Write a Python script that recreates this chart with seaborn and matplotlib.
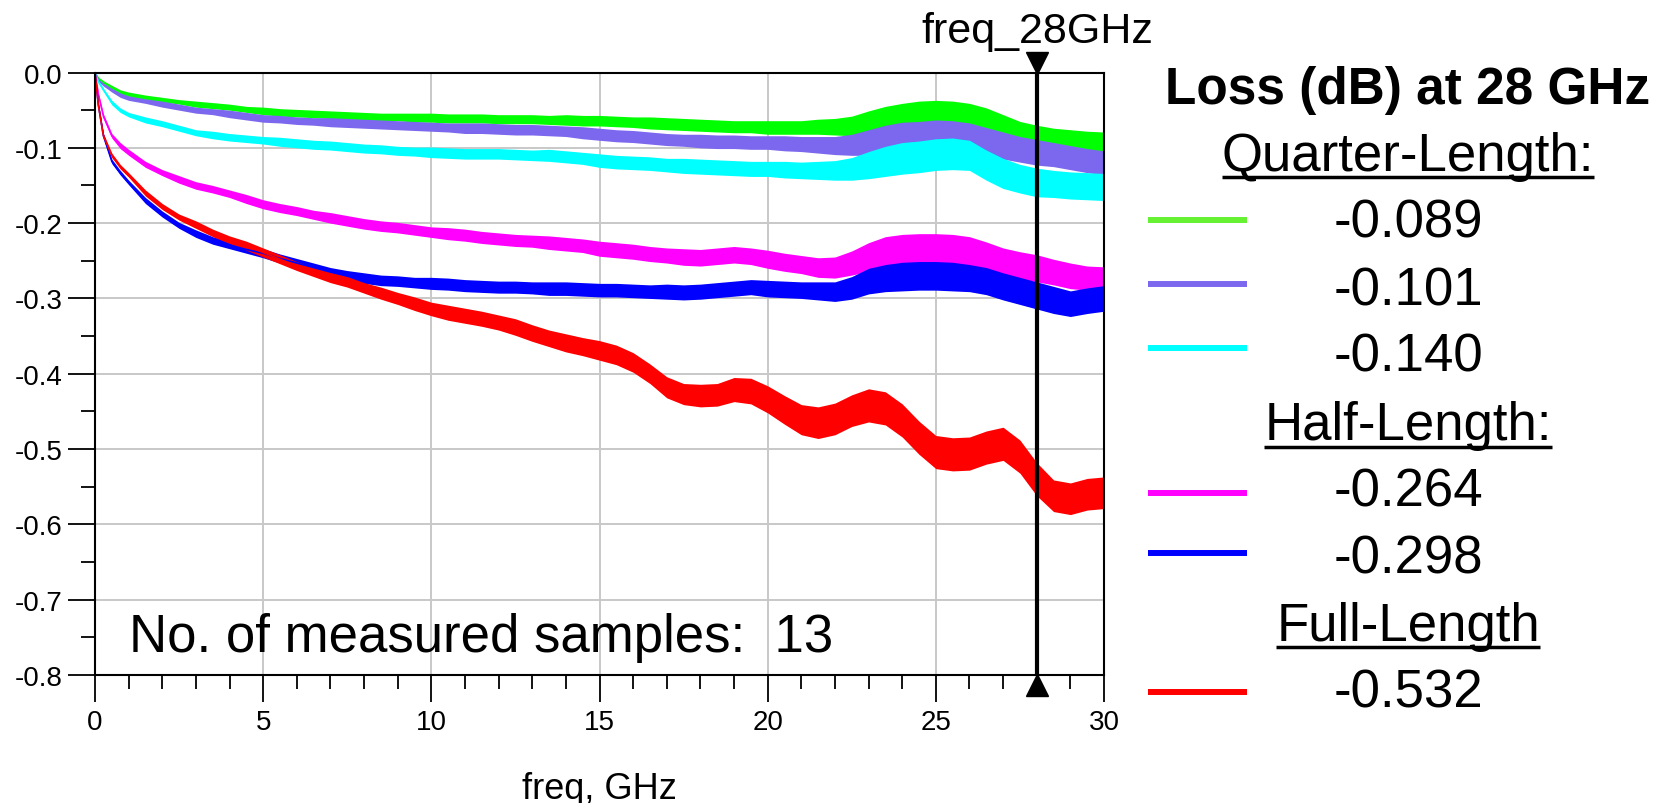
import numpy as np
import pandas as pd
import matplotlib
matplotlib.use("Agg")
import matplotlib.pyplot as plt
import seaborn as sns
from matplotlib.lines import Line2D
from matplotlib.ticker import MultipleLocator, FuncFormatter
import matplotlib.transforms as mtransforms

# ---------------- data ----------------
freq = [0, 0.1, 0.25, 0.5, 0.75, 1, 1.5, 2, 2.5, 3,
        3.5, 4, 4.5, 5, 5.5, 6, 6.5, 7, 7.5, 8,
        8.5, 9, 9.5, 10, 10.5, 11, 11.5, 12, 12.5, 13,
        13.5, 14, 14.5, 15, 15.5, 16, 16.5, 17, 17.5, 18,
        18.5, 19, 19.5, 20, 20.5, 21, 21.5, 22, 22.5, 23,
        23.5, 24, 24.5, 25, 25.5, 26, 26.5, 27, 27.5, 28,
        28.5, 29, 29.5, 30]

series_names = ["Q1", "Q2", "Q3", "H1", "H2", "F1"]
series_colors = ["#00ff00", "#7b68ee", "#00ffff", "#ff00ff", "#0000ff", "#ff0000"]
legend_colors = ["#66f233", "#7b68ee", "#00ffff", "#ff00ff", "#0000ff", "#ff0000"]

q1_loss = [0, -0.008, -0.013, -0.020, -0.026, -0.029, -0.033, -0.036, -0.039, -0.042,
           -0.044, -0.046, -0.049, -0.051, -0.053, -0.054, -0.055, -0.056, -0.057, -0.058,
           -0.059, -0.059, -0.060, -0.060, -0.061, -0.061, -0.061, -0.062, -0.062, -0.062,
           -0.063, -0.063, -0.064, -0.064, -0.065, -0.066, -0.067, -0.068, -0.069, -0.070,
           -0.071, -0.072, -0.072, -0.073, -0.073, -0.073, -0.072, -0.072, -0.071, -0.067,
           -0.063, -0.060, -0.058, -0.057, -0.058, -0.060, -0.065, -0.073, -0.081, -0.086,
           -0.089, -0.091, -0.093, -0.094]
q2_loss = [0, -0.010, -0.016, -0.023, -0.030, -0.034, -0.038, -0.042, -0.046, -0.050,
           -0.052, -0.055, -0.058, -0.061, -0.062, -0.064, -0.065, -0.066, -0.067, -0.068,
           -0.069, -0.070, -0.071, -0.072, -0.073, -0.074, -0.074, -0.075, -0.076, -0.076,
           -0.077, -0.078, -0.080, -0.082, -0.084, -0.085, -0.087, -0.089, -0.090, -0.091,
           -0.092, -0.092, -0.093, -0.093, -0.094, -0.095, -0.096, -0.097, -0.096, -0.093,
           -0.089, -0.086, -0.085, -0.084, -0.084, -0.086, -0.091, -0.097, -0.102, -0.106,
           -0.109, -0.113, -0.117, -0.120]
q3_loss = [0, -0.012, -0.023, -0.040, -0.050, -0.056, -0.063, -0.068, -0.074, -0.080,
           -0.083, -0.086, -0.088, -0.090, -0.092, -0.094, -0.096, -0.097, -0.099, -0.101,
           -0.102, -0.104, -0.105, -0.106, -0.107, -0.108, -0.108, -0.108, -0.109, -0.110,
           -0.110, -0.112, -0.114, -0.117, -0.119, -0.120, -0.121, -0.123, -0.124, -0.125,
           -0.126, -0.127, -0.128, -0.128, -0.129, -0.130, -0.130, -0.130, -0.128, -0.123,
           -0.118, -0.114, -0.112, -0.109, -0.108, -0.110, -0.123, -0.134, -0.141, -0.146,
           -0.148, -0.150, -0.151, -0.152]
h1_loss = [0, -0.029, -0.058, -0.084, -0.097, -0.106, -0.122, -0.133, -0.142, -0.150,
           -0.155, -0.161, -0.168, -0.175, -0.180, -0.184, -0.189, -0.193, -0.197, -0.201,
           -0.204, -0.206, -0.209, -0.212, -0.214, -0.216, -0.219, -0.221, -0.223, -0.224,
           -0.226, -0.228, -0.230, -0.234, -0.236, -0.238, -0.241, -0.243, -0.245, -0.246,
           -0.244, -0.242, -0.244, -0.248, -0.252, -0.255, -0.259, -0.259, -0.253, -0.245,
           -0.239, -0.237, -0.236, -0.236, -0.237, -0.239, -0.245, -0.252, -0.256, -0.260,
           -0.265, -0.270, -0.273, -0.274]
h2_loss = [0, -0.043, -0.084, -0.118, -0.133, -0.146, -0.170, -0.188, -0.203, -0.214,
           -0.223, -0.229, -0.235, -0.240, -0.247, -0.253, -0.259, -0.265, -0.270, -0.273,
           -0.276, -0.277, -0.279, -0.280, -0.281, -0.283, -0.284, -0.285, -0.285, -0.286,
           -0.287, -0.287, -0.288, -0.289, -0.289, -0.290, -0.291, -0.291, -0.292, -0.291,
           -0.289, -0.287, -0.285, -0.287, -0.288, -0.289, -0.290, -0.291, -0.286, -0.277,
           -0.273, -0.271, -0.270, -0.270, -0.271, -0.273, -0.277, -0.284, -0.290, -0.296,
           -0.302, -0.307, -0.303, -0.300]
f1_loss = [0, -0.043, -0.084, -0.110, -0.125, -0.136, -0.160, -0.178, -0.192, -0.202,
           -0.213, -0.222, -0.230, -0.239, -0.248, -0.257, -0.265, -0.272, -0.278, -0.286,
           -0.293, -0.300, -0.307, -0.314, -0.319, -0.323, -0.327, -0.332, -0.338, -0.346,
           -0.353, -0.359, -0.364, -0.369, -0.375, -0.385, -0.400, -0.418, -0.427, -0.429,
           -0.428, -0.421, -0.423, -0.434, -0.448, -0.461, -0.465, -0.460, -0.449, -0.442,
           -0.446, -0.462, -0.485, -0.504, -0.507, -0.506, -0.498, -0.493, -0.510, -0.540,
           -0.562, -0.566, -0.560, -0.558]

q1_ripple = [0, 0.002, 0.002, 0.003, 0.003, 0.003, 0.003, 0.003, 0.003, 0.004,
             0.004, 0.004, 0.004, 0.005, 0.005, 0.005, 0.005, 0.005, 0.005, 0.005,
             0.005, 0.005, 0.006, 0.006, 0.006, 0.006, 0.006, 0.006, 0.006, 0.006,
             0.006, 0.007, 0.007, 0.007, 0.007, 0.007, 0.008, 0.008, 0.008, 0.008,
             0.008, 0.008, 0.008, 0.009, 0.009, 0.009, 0.010, 0.011, 0.013, 0.016,
             0.018, 0.019, 0.020, 0.020, 0.020, 0.019, 0.018, 0.017, 0.016, 0.016,
             0.015, 0.015, 0.015, 0.015]
q2_ripple = [0, 0.002, 0.002, 0.003, 0.003, 0.003, 0.003, 0.004, 0.004, 0.004,
             0.004, 0.005, 0.005, 0.005, 0.005, 0.005, 0.005, 0.006, 0.006, 0.006,
             0.006, 0.006, 0.006, 0.006, 0.006, 0.007, 0.007, 0.007, 0.007, 0.007,
             0.007, 0.007, 0.008, 0.008, 0.008, 0.008, 0.008, 0.008, 0.008, 0.009,
             0.009, 0.009, 0.009, 0.009, 0.010, 0.010, 0.011, 0.012, 0.014, 0.017,
             0.019, 0.020, 0.020, 0.021, 0.020, 0.019, 0.018, 0.018, 0.017, 0.017,
             0.016, 0.016, 0.016, 0.016]
q3_ripple = [0, 0.002, 0.002, 0.003, 0.003, 0.003, 0.004, 0.004, 0.004, 0.004,
             0.005, 0.005, 0.005, 0.005, 0.006, 0.006, 0.006, 0.006, 0.006, 0.006,
             0.006, 0.006, 0.006, 0.007, 0.007, 0.007, 0.007, 0.007, 0.007, 0.007,
             0.008, 0.008, 0.008, 0.009, 0.009, 0.009, 0.009, 0.009, 0.010, 0.010,
             0.010, 0.010, 0.010, 0.010, 0.011, 0.011, 0.012, 0.013, 0.015, 0.018,
             0.020, 0.021, 0.021, 0.021, 0.021, 0.020, 0.020, 0.020, 0.019, 0.019,
             0.018, 0.018, 0.018, 0.018]
h1_ripple = [0, 0.002, 0.003, 0.003, 0.004, 0.004, 0.004, 0.004, 0.005, 0.005,
             0.005, 0.005, 0.006, 0.006, 0.006, 0.006, 0.006, 0.007, 0.007, 0.007,
             0.007, 0.007, 0.007, 0.007, 0.008, 0.008, 0.008, 0.008, 0.008, 0.008,
             0.009, 0.009, 0.009, 0.010, 0.010, 0.010, 0.010, 0.010, 0.011, 0.011,
             0.011, 0.011, 0.011, 0.012, 0.012, 0.012, 0.013, 0.014, 0.016, 0.019,
             0.021, 0.022, 0.022, 0.022, 0.022, 0.021, 0.020, 0.019, 0.018, 0.018,
             0.017, 0.017, 0.016, 0.016]
h2_ripple = [0, 0.002, 0.003, 0.003, 0.003, 0.003, 0.004, 0.004, 0.004, 0.005,
             0.005, 0.005, 0.005, 0.006, 0.006, 0.006, 0.006, 0.006, 0.007, 0.007,
             0.007, 0.007, 0.007, 0.008, 0.008, 0.008, 0.008, 0.008, 0.008, 0.008,
             0.009, 0.009, 0.009, 0.009, 0.009, 0.009, 0.009, 0.010, 0.010, 0.010,
             0.010, 0.010, 0.010, 0.011, 0.011, 0.011, 0.012, 0.013, 0.015, 0.017,
             0.018, 0.019, 0.019, 0.019, 0.019, 0.018, 0.018, 0.018, 0.018, 0.018,
             0.018, 0.017, 0.017, 0.017]
f1_ripple = [0, 0.002, 0.003, 0.003, 0.003, 0.003, 0.004, 0.004, 0.004, 0.005,
             0.005, 0.005, 0.006, 0.006, 0.006, 0.006, 0.006, 0.007, 0.007, 0.007,
             0.008, 0.008, 0.009, 0.009, 0.010, 0.010, 0.010, 0.010, 0.011, 0.011,
             0.011, 0.012, 0.012, 0.013, 0.013, 0.013, 0.013, 0.014, 0.014, 0.015,
             0.015, 0.016, 0.017, 0.018, 0.019, 0.020, 0.021, 0.021, 0.021, 0.022,
             0.022, 0.022, 0.022, 0.022, 0.022, 0.022, 0.022, 0.022, 0.022, 0.022,
             0.021, 0.021, 0.021, 0.021]

legend_headers = ["Quarter-Length:", "Half-Length:", "Full-Length"]
legend_values = ["-0.089", "-0.101", "-0.140", "-0.264", "-0.298", "-0.532"]
marker_freq = 28

# ---------------- figure ----------------
sns.set_theme(style="white")
plt.rcParams["font.family"] = ["Liberation Sans", "DejaVu Sans"]
plt.rcParams["axes.unicode_minus"] = False
plt.rcParams["xtick.labelsize"] = 20
plt.rcParams["ytick.labelsize"] = 20

W, H = 1669, 804
fig = plt.figure(figsize=(W / 100, H / 100), dpi=100)
fig.patch.set_facecolor("white")

x0p, x1p, y0p, y1p = 95.0, 1104.0, 73.5, 676.0
ax = fig.add_axes([x0p / W, 1 - y1p / H, (x1p - x0p) / W, (y1p - y0p) / H])
ax.set_facecolor("white")

all_loss = [q1_loss, q2_loss, q3_loss, h1_loss, h2_loss, f1_loss]
all_rip = [q1_ripple, q2_ripple, q3_ripple, h1_ripple, h2_ripple, f1_ripple]

rows = []
for name, loss in zip(series_names, all_loss):
    for f, v in zip(freq, loss):
        rows.append({"freq": f, "loss": v, "series": name})
df = pd.DataFrame(rows)

palette = dict(zip(series_names, series_colors))
for name, loss, rip, col in zip(series_names, all_loss, all_rip, series_colors):
    c = np.array(loss)
    r = np.array(rip)
    ax.fill_between(freq, c - r, c + r, color=col, lw=0, zorder=2)

sns.lineplot(data=df, x="freq", y="loss", hue="series", hue_order=series_names,
             palette=palette, estimator=None, sort=False, lw=1.2,
             legend=False, ax=ax, zorder=3)

ax.set_xlim(0, 30)
ax.set_ylim(-0.8, 0.0)
ax.xaxis.set_major_locator(MultipleLocator(5))
ax.xaxis.set_minor_locator(MultipleLocator(1))
ax.yaxis.set_major_locator(MultipleLocator(0.1))
ax.yaxis.set_minor_locator(MultipleLocator(0.05))
ax.yaxis.set_major_formatter(FuncFormatter(lambda v, p: "0.0" if abs(v) < 1e-9 else f"{v:.1f}"))
ax.xaxis.set_major_formatter(FuncFormatter(lambda v, p: f"{int(round(v))}"))
ax.tick_params(axis="both", which="major", direction="out", length=19.5, width=1.3,
               color="black", labelsize=20, labelcolor="black",
               bottom=True, left=True, top=False, right=False)
ax.tick_params(axis="both", which="minor", direction="out", length=10, width=1.3,
               color="black", bottom=True, left=True, top=False, right=False)
ax.tick_params(axis="y", which="major", pad=4)
ax.tick_params(axis="x", which="major", pad=5)
ax.grid(True, which="major", color="#c8c8c8", lw=1.4)
ax.set_axisbelow(True)
for s in ax.spines.values():
    s.set_color("black")
    s.set_linewidth(1.5)
    s.set_zorder(4)
ax.set_xlabel("")
ax.set_ylabel("")

# marker at 28 GHz
ax.axvline(marker_freq, color="black", lw=3, zorder=5)
up = mtransforms.offset_copy(ax.transData, fig=fig, x=0, y=10, units="dots")
dn = mtransforms.offset_copy(ax.transData, fig=fig, x=0, y=-10, units="dots")
ax.plot([marker_freq], [0.0], marker="v", ms=16, color="black", transform=up,
        clip_on=False, zorder=6)
ax.plot([marker_freq], [-0.8], marker="^", ms=16, color="black", transform=dn,
        clip_on=False, zorder=6)
fig.text(1037 / W, 1 - 42.7 / H, "freq_28GHz", ha="center", va="baseline",
         fontsize=31, color="black")

ax.text(1.0, -0.7675, "No. of measured samples:  13", ha="left", va="baseline",
        fontsize=38, color="black", zorder=6)

fig.text(599 / W, 1 - 799 / H, "freq, GHz", ha="center", va="baseline",
         fontsize=26, color="black")

# ---------------- legend block ----------------
cx = 1408 / W
fig.text(cx, 1 - 104 / H, "Loss (dB) at 28 GHz", ha="center", va="baseline",
         fontsize=37, fontweight="bold", color="black")
header_base = [170.7, 440.0, 640.7]
underline_y = [178.0, 448.0, 648.0]
value_base = [237.0, 305.0, 371.7, 507.0, 574.0, 708.0]
line_y = [220.7, 285.0, 349.0, 494.0, 554.0, 693.0]

hdr_texts = []
for txt, yb in zip(legend_headers, header_base):
    t = fig.text(cx, 1 - yb / H, txt, ha="center", va="baseline", fontsize=38, color="black")
    hdr_texts.append(t)
for txt, yb in zip(legend_values, value_base):
    fig.text(cx, 1 - yb / H, txt, ha="center", va="baseline", fontsize=38, color="black")
for col, yl in zip(legend_colors, line_y):
    fig.add_artist(Line2D([1148 / W, 1247 / W], [1 - yl / H, 1 - yl / H],
                          transform=fig.transFigure, color=col, lw=4.3,
                          solid_capstyle="butt"))

fig.canvas.draw()
renderer = fig.canvas.get_renderer()
for t, yu in zip(hdr_texts, underline_y):
    bb = t.get_window_extent(renderer)
    fig.add_artist(Line2D([bb.x0 / W, bb.x1 / W], [1 - yu / H, 1 - yu / H],
                          transform=fig.transFigure, color="black", lw=2.5,
                          solid_capstyle="butt"))

fig.savefig("out.png", dpi=100, facecolor="white")
